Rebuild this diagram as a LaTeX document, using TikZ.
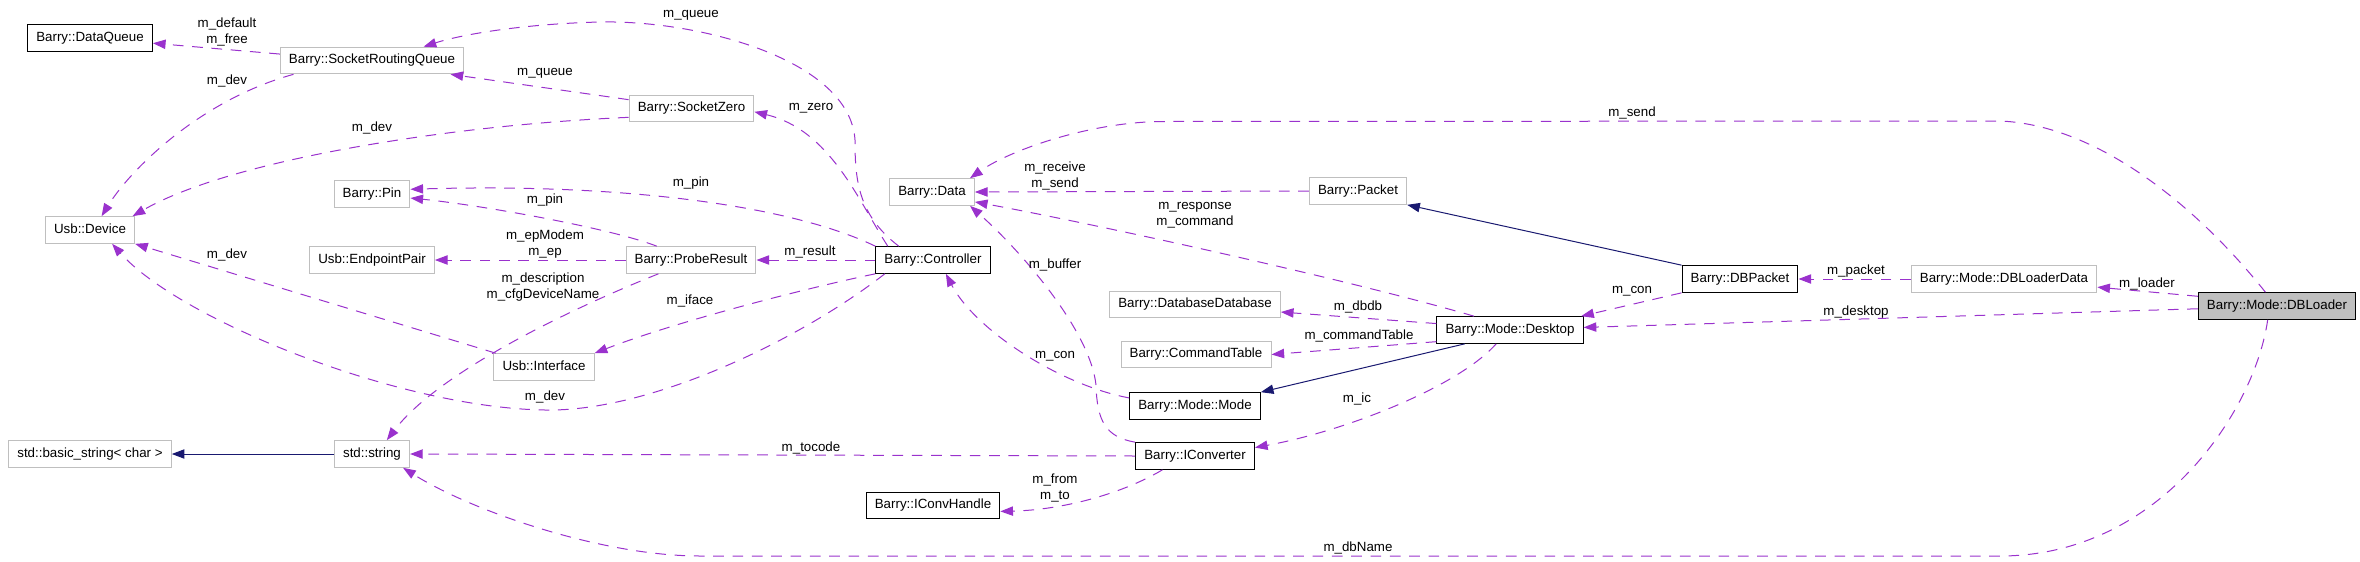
\documentclass[tikz,border=0pt]{standalone}
\usepackage{fontspec}
\setmainfont{Liberation Sans}
\usetikzlibrary{arrows.meta}
\definecolor{ungu}{HTML}{9A32CD}
\definecolor{birutua}{HTML}{191970}
\definecolor{abu}{HTML}{BFBFBF}

\begin{document}
\begin{tikzpicture}[x=0.75pt,y=-0.75pt,
    font=\fontsize{10}{12}\selectfont,
    kelas/.style={draw=abu, line width=0.75pt, minimum height=20pt, inner xsep=6.5pt, inner ysep=0pt, text height=7.3pt, text depth=2.1pt},
    kelasdok/.style={kelas, draw=black},
    pakai/.style={ungu, line width=0.75pt, dash pattern=on 8pt off 6.5pt, -{Triangle[length=9.5pt,width=7pt]}},
    turunan/.style={birutua, line width=0.75pt, -{Triangle[length=9.5pt,width=7pt]}},
    teks/.style={inner sep=0pt, align=center}]

    % Batas gambar
    \useasboundingbox (0,0) rectangle (2360,561);

    % Kelas kolom kiri
    \node[kelasdok] (dq) at (90,37.7) {Barry::DataQueue};
    \node[kelas] (usbdev) at (90,230) {Usb::Device};
    \node[kelas] (bstr) at (90,454) {std::basic\_string< char >};

    \node[kelas] (srq) at (372,60.5) {Barry::SocketRoutingQueue};
    \node[kelas] (pin) at (372,194) {Barry::Pin};
    \node[kelas] (ep) at (372,260) {Usb::EndpointPair};
    \node[kelas] (str) at (372,454) {std::string};

    % Kelas tengah
    \node[kelas] (szero) at (691.5,108.5) {Barry::SocketZero};
    \node[kelas] (probe) at (691,260) {Barry::ProbeResult};
    \node[kelas] (iface) at (544,367) {Usb::Interface};
    \node[kelas] (data) at (932,192) {Barry::Data};
    \node[kelasdok] (ctrl) at (933,260) {Barry::Controller};
    \node[kelasdok] (ihandle) at (933,505.5) {Barry::IConvHandle};

    \node[kelas] (packet) at (1358,191) {Barry::Packet};
    \node[kelas] (dbdb) at (1195,304.5) {Barry::DatabaseDatabase};
    \node[kelas] (cmdt) at (1196,354.5) {Barry::CommandTable};
    \node[kelasdok] (mode) at (1195,406) {Barry::Mode::Mode};
    \node[kelasdok] (iconv) at (1195,456) {Barry::IConverter};

    % Kelas kanan
    \node[kelasdok] (desk) at (1510,330) {Barry::Mode::Desktop};
    \node[kelasdok] (dbpkt) at (1740,279) {Barry::DBPacket};
    \node[kelas] (dbld) at (2004,279) {Barry::Mode::DBLoaderData};
    \node[kelasdok, fill=abu] (loader) at (2277,306) {Barry::Mode::DBLoader};

    % Relasi pewarisan
    \draw[turunan] (dbpkt.north west) -- (packet.south east);
    \draw[turunan] (desk.197) -- (mode.north east);
    \draw[turunan] (str.west) -- (bstr.east);

    % Relasi pemakaian (atribut)
    \draw[pakai] (srq.176) -- (dq.-5);
    \draw[pakai] (srq.190) .. controls (200,100) and (130,170) .. (usbdev.50);
    \draw[pakai] (szero.172) -- (srq.-10);
    \draw[pakai] (ctrl.158) .. controls (858,215) and (855,180) .. (855,140)
        .. controls (850,60) and (700,20) .. (600,22)
        .. controls (520,24) and (460,35) .. (srq.15);
    \draw[pakai] (szero.188) .. controls (450,125) and (230,160) .. (usbdev.18);
    \draw[pakai] (ctrl.163) .. controls (858,200) and (830,130) .. (szero.-3);
    \draw[pakai] (probe.158) .. controls (610,228) and (480,205) .. (pin.-6);
    \draw[pakai] (ctrl.north west) .. controls (790,205) and (620,183) .. (pin.7);
    \draw[pakai] (probe.west) -- (ep.east);
    \draw[pakai] (ctrl.west) -- (probe.east);
    \draw[pakai] (iface.164) -- (usbdev.south east);
    \draw[pakai] (probe.203) .. controls (580,305) and (440,370) .. (str.43);
    \draw[pakai] (ctrl.south west) .. controls (820,285) and (680,320) .. (iface.north east);
    \draw[pakai] (ctrl.196) .. controls (800,340) and (650,412) .. (545,410)
        .. controls (400,408) and (180,320) .. (usbdev.-32);
    \draw[pakai] (iconv.north west) .. controls (1105,437) and (1097,420) .. (1096,385)
        .. controls (1090,330) and (1020,250) .. (data.-20);
    \draw[pakai] (mode.173) .. controls (1060,385) and (975,330) .. (ctrl.-47);
    \draw[pakai] (desk.159) .. controls (1350,280) and (1100,225) .. (data.-13);
    \draw[pakai] (packet.west) -- (data.east);
    \draw[pakai] (loader.130) .. controls (2200,210) and (2100,125) .. (2000,121)
        -- (1162,121.5) .. controls (1090,122) and (1010,150) .. (data.20);
    \draw[pakai] (desk.175) -- (dbdb.-5);
    \draw[pakai] (desk.189) -- (cmdt.east);
    \draw[pakai] (desk.225) .. controls (1460,385) and (1350,430) .. (iconv.8);
    \draw[pakai] (iconv.west) -- (str.east);
    \draw[pakai] (iconv.203) .. controls (1120,495) and (1060,510) .. (ihandle.-5);
    \draw[pakai] (dbpkt.south west) -- (desk.11);
    \draw[pakai] (dbld.west) -- (dbpkt.east);
    \draw[pakai] (loader.173) -- (dbld.-5);
    \draw[pakai] (loader.182) -- (desk.2);
    \draw[pakai] (loader.236) .. controls (2255,410) and (2160,556) .. (2000,556)
        -- (700,556) .. controls (600,556) and (470,510) .. (str.-24);

    % Label atribut
    \node[teks] (ldq) at (227,32) {m\_default\\m\_free};
    \node[teks] (ldev1) at (227,81) {m\_dev};
    \node[teks] (lqueue1) at (691,15) {m\_queue};
    \node[teks] (lqueue2) at (545,73) {m\_queue};
    \node[teks] (lzero) at (811,108) {m\_zero};
    \node[teks] (ldev2) at (372,128) {m\_dev};
    \node[teks] (lpin1) at (691,183) {m\_pin};
    \node[teks] (lpin2) at (545,200) {m\_pin};
    \node[teks] (lep) at (545,244) {m\_epModem\\m\_ep};
    \node[teks] (lresult) at (810,252) {m\_result};
    \node[teks] (ldev3) at (227,255) {m\_dev};
    \node[teks] (ldesc) at (543,287.5) {m\_description\\m\_cfgDeviceName};
    \node[teks] (liface) at (690,301) {m\_iface};
    \node[teks] (ldev4) at (545,397) {m\_dev};
    \node[teks] (lrecv) at (1055,175.5) {m\_receive\\m\_send};
    \node[teks] (lsend) at (1632,113) {m\_send};
    \node[teks] (lbuffer) at (1055,265) {m\_buffer};
    \node[teks] (lresp) at (1195,215.5) {m\_response\\m\_command};
    \node[teks] (ldbdb) at (1358,307) {m\_dbdb};
    \node[teks] (lcmdt) at (1359,336) {m\_commandTable};
    \node[teks] (lcon1) at (1055,356) {m\_con};
    \node[teks] (lic) at (1357,399) {m\_ic};
    \node[teks] (ltocode) at (811,448) {m\_tocode};
    \node[teks] (lfrom) at (1055,488) {m\_from\\m\_to};
    \node[teks] (lcon2) at (1632,291) {m\_con};
    \node[teks] (lpacket) at (1856,271) {m\_packet};
    \node[teks] (lloader) at (2147,284) {m\_loader};
    \node[teks] (ldesktop) at (1856,312) {m\_desktop};
    \node[teks] (ldbname) at (1358,548) {m\_dbName};

\end{tikzpicture}
\end{document}
